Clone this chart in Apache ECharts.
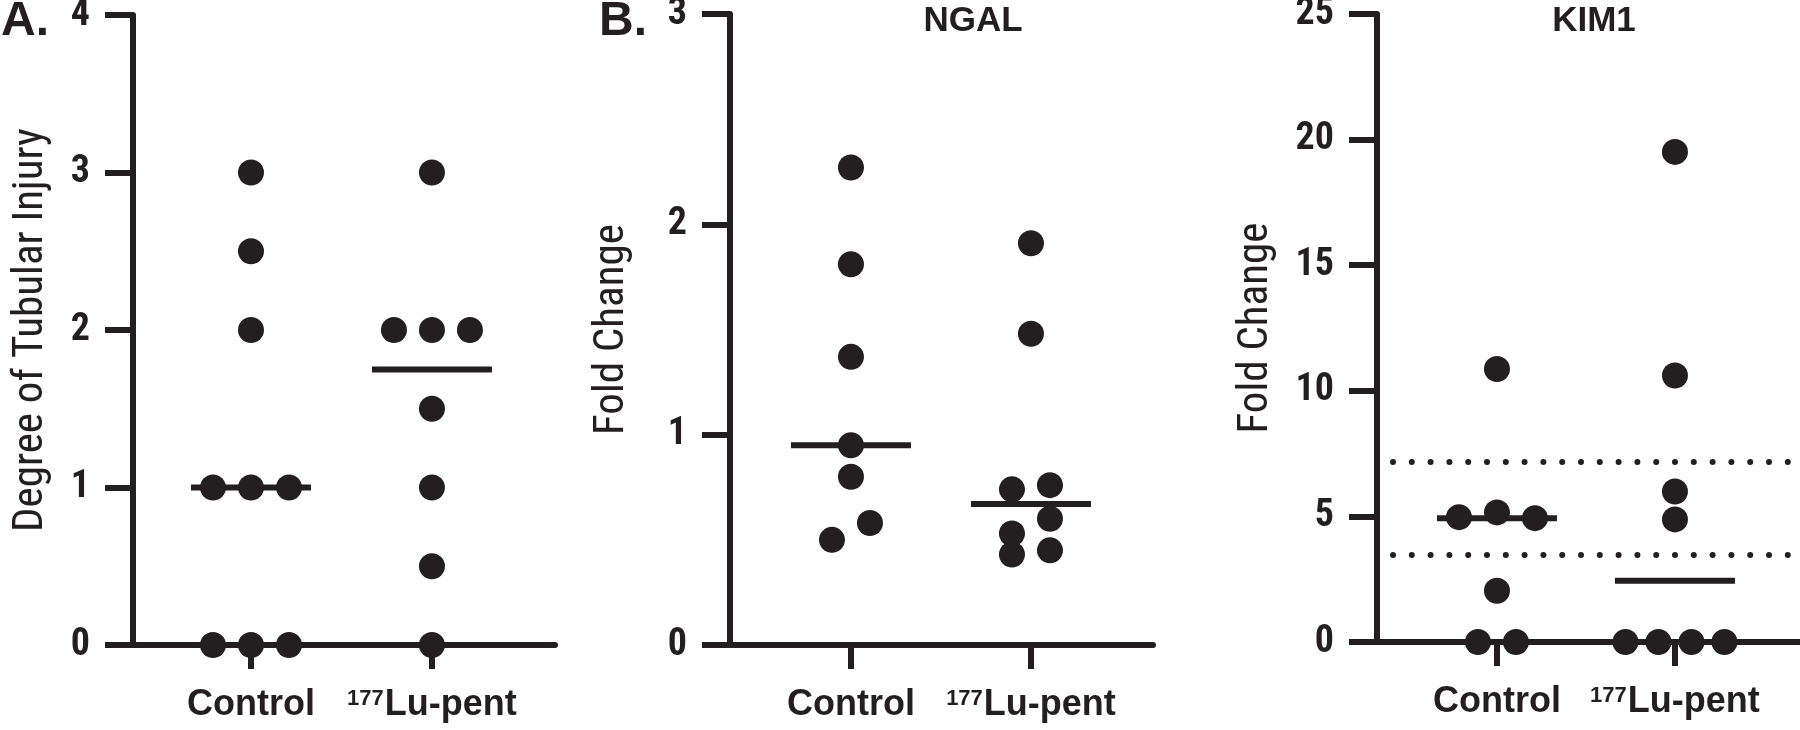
<!DOCTYPE html>
<html><head><meta charset="utf-8">
<script src="https://cdn.jsdelivr.net/npm/echarts@6/dist/echarts.min.js"></script>
<style>html,body{margin:0;padding:0;background:#fff}#c{width:1800px;height:730px}</style>
</head><body><div id="c"></div>
<script>
// ---- data ----
const categories = ['Control', '177Lu-pent'];
const injuryControl = [3, 2.5, 2, 1, 1, 1, 0, 0, 0];
const injuryLu = [3, 2, 2, 2, 1.5, 1, 0.5, 0];
const ngalControl = [2.27, 1.81, 1.37, 0.95, 0.80, 0.50, 0.58];
const ngalLu = [1.91, 1.48, 0.74, 0.76, 0.60, 0.53, 0.43, 0.45];
const kimControl = [10.87, 4.97, 5.16, 4.93, 2.04, 0, 0];
const kimLu = [19.51, 10.61, 5.99, 4.88, 0, 0, 0, 0];
const kimRefLines = [7.19, 3.49];
const panelLetters = ['A.', 'B.'];
const panelTitles = ['NGAL', 'KIM1'];
const yTitles = ['Degree of Tubular Injury', 'Fold Change', 'Fold Change'];
const yMaxes = [4, 3, 25];
const ySteps = [1, 1, 5];

// ---- style / layout ----
const INK = '#231f20';
const DOT = 26;
const LW = 6;
const BOLD = 'Liberation Sans, Arial, sans-serif';
const COND = 'Roboto Condensed, Liberation Sans, sans-serif';
const layout = [
  {left: 133, top: 15, width: 422, height: 630, xMin: -0.652, xMax: 1.68, nameGap: 80},
  {left: 730, top: 14, width: 423, height: 631, xMin: -0.672, xMax: 1.678, nameGap: 96},
  {left: 1377, top: 14, width: 422, height: 628, xMin: -0.674, xMax: 1.697, nameGap: 99}
];
const groupsPerPanel = [[injuryControl, injuryLu], [ngalControl, ngalLu], [kimControl, kimLu]];
const refLinesPerPanel = [[], [], kimRefLines];

function median(a) {
  const s = a.slice().sort((x, y) => x - y);
  const m = s.length >> 1;
  return s.length % 2 ? s[m] : (s[m - 1] + s[m]) / 2;
}

// horizontal spreading of colliding points (pixel offsets), Prism-like
function swarmOffsets(values, pxPerUnit) {
  const order = values.map((v, i) => i).sort((a, b) => (values[a] - values[b]) || (a - b));
  const clusters = [];
  let cur = [];
  order.forEach(i => {
    if (cur.length && (values[i] - values[cur[cur.length - 1]]) * pxPerUnit >= 0.8 * DOT) {
      clusters.push(cur); cur = [];
    }
    cur.push(i);
  });
  if (cur.length) clusters.push(cur);
  const off = new Array(values.length).fill(0);
  clusters.forEach(c => {
    const n = c.length;
    if (n === 1) return;
    const span = (values[c[n - 1]] - values[c[0]]) * pxPerUnit;
    if (span > DOT) {
      c.forEach((i, k) => { off[i] = (k % 2 === 0 ? -1 : 1) * 19; });
    } else {
      const sp = n >= 4 ? 33 : 38;
      c.slice().sort((a, b) => a - b).forEach((i, k) => { off[i] = (k - (n - 1) / 2) * sp; });
    }
  });
  return off;
}

function catLabel(v) {
  const label = categories[Math.round(v)];
  if (label === undefined) return '';
  const m = /^(\d+)(.*)$/.exec(label);
  return m ? '{sup|' + m[1] + '}{b|' + m[2] + '}' : '{b|' + label + '}';
}

const grids = [], xAxes = [], yAxes = [], series = [];
layout.forEach((p, k) => {
  grids.push({left: p.left, top: p.top, width: p.width, height: p.height, outerBoundsMode: 'none'});
  xAxes.push({
    type: 'value', gridIndex: k, min: p.xMin, max: p.xMax,
    axisLine: {show: true, onZero: false, lineStyle: {color: INK, width: LW}},
    axisTick: {show: true, customValues: [0, 1], length: 24, lineStyle: {color: INK, width: LW}},
    axisLabel: {
      customValues: [0, 1], margin: 40, formatter: catLabel,
      rich: {
        b: {fontFamily: BOLD, fontWeight: 'bold', fontSize: 36, color: INK, lineHeight: 40},
        sup: {fontFamily: BOLD, fontWeight: 'bold', fontSize: 22, color: INK, lineHeight: 22, verticalAlign: 'top', padding: [3, 1, 0, 0]}
      }
    },
    splitLine: {show: false}
  });
  yAxes.push({
    type: 'value', gridIndex: k, min: 0, max: yMaxes[k], interval: ySteps[k],
    axisLine: {show: true, onZero: false, lineStyle: {color: INK, width: LW}},
    axisTick: {show: true, length: 28, lineStyle: {color: INK, width: LW}},
    axisLabel: {fontFamily: COND, fontWeight: 'bold', fontSize: 38, color: INK, margin: 43},
    splitLine: {show: false},
    name: yTitles[k], nameLocation: 'middle', nameGap: p.nameGap,
    nameTextStyle: {fontFamily: COND, fontSize: 43, color: INK}
  });
  const pxPerUnit = p.height / yMaxes[k];
  const data = [];
  groupsPerPanel[k].forEach((vals, g) => {
    const off = swarmOffsets(vals, pxPerUnit);
    vals.forEach((v, i) => data.push({value: [g, v], symbolOffset: [off[i], 0]}));
  });
  series.push({
    type: 'scatter', xAxisIndex: k, yAxisIndex: k, symbol: 'circle', symbolSize: DOT,
    itemStyle: {color: INK, opacity: 1}, data: data, z: 3, silent: true
  });
  const medSeries = {
    type: 'scatter', xAxisIndex: k, yAxisIndex: k, symbol: 'rect', symbolSize: [120, LW],
    itemStyle: {color: INK, opacity: 1}, z: 2, silent: true,
    data: groupsPerPanel[k].map((vals, g) => [g, median(vals)])
  };
  if (refLinesPerPanel[k].length) {
    medSeries.markLine = {
      silent: true, symbol: ['none', 'none'], label: {show: false},
      lineStyle: {color: INK, width: 6, type: [0, 18.8], cap: 'round', dashOffset: 2.8, opacity: 1},
      emphasis: {disabled: true},
      data: refLinesPerPanel[k].map(v => ({yAxis: v}))
    };
  }
  series.push(medSeries);
});

const graphics = [];
panelLetters.forEach((t, i) => graphics.push({
  type: 'text', x: [1, 599][i], y: -2,
  style: {text: t, font: 'bold 48px ' + BOLD, fill: INK, textVerticalAlign: 'top'}
}));
panelTitles.forEach((t, i) => graphics.push({
  type: 'text', x: [973, 1594][i], y: 4,
  style: {text: t, font: 'bold 35px ' + BOLD, fill: INK, textAlign: 'center', textVerticalAlign: 'top'}
}));

const chart = echarts.init(document.getElementById('c'), null, {renderer: 'canvas'});
chart.setOption({
  animation: false,
  backgroundColor: '#fff',
  grid: grids, xAxis: xAxes, yAxis: yAxes, series: series, graphic: graphics
});
</script>
</body></html>
